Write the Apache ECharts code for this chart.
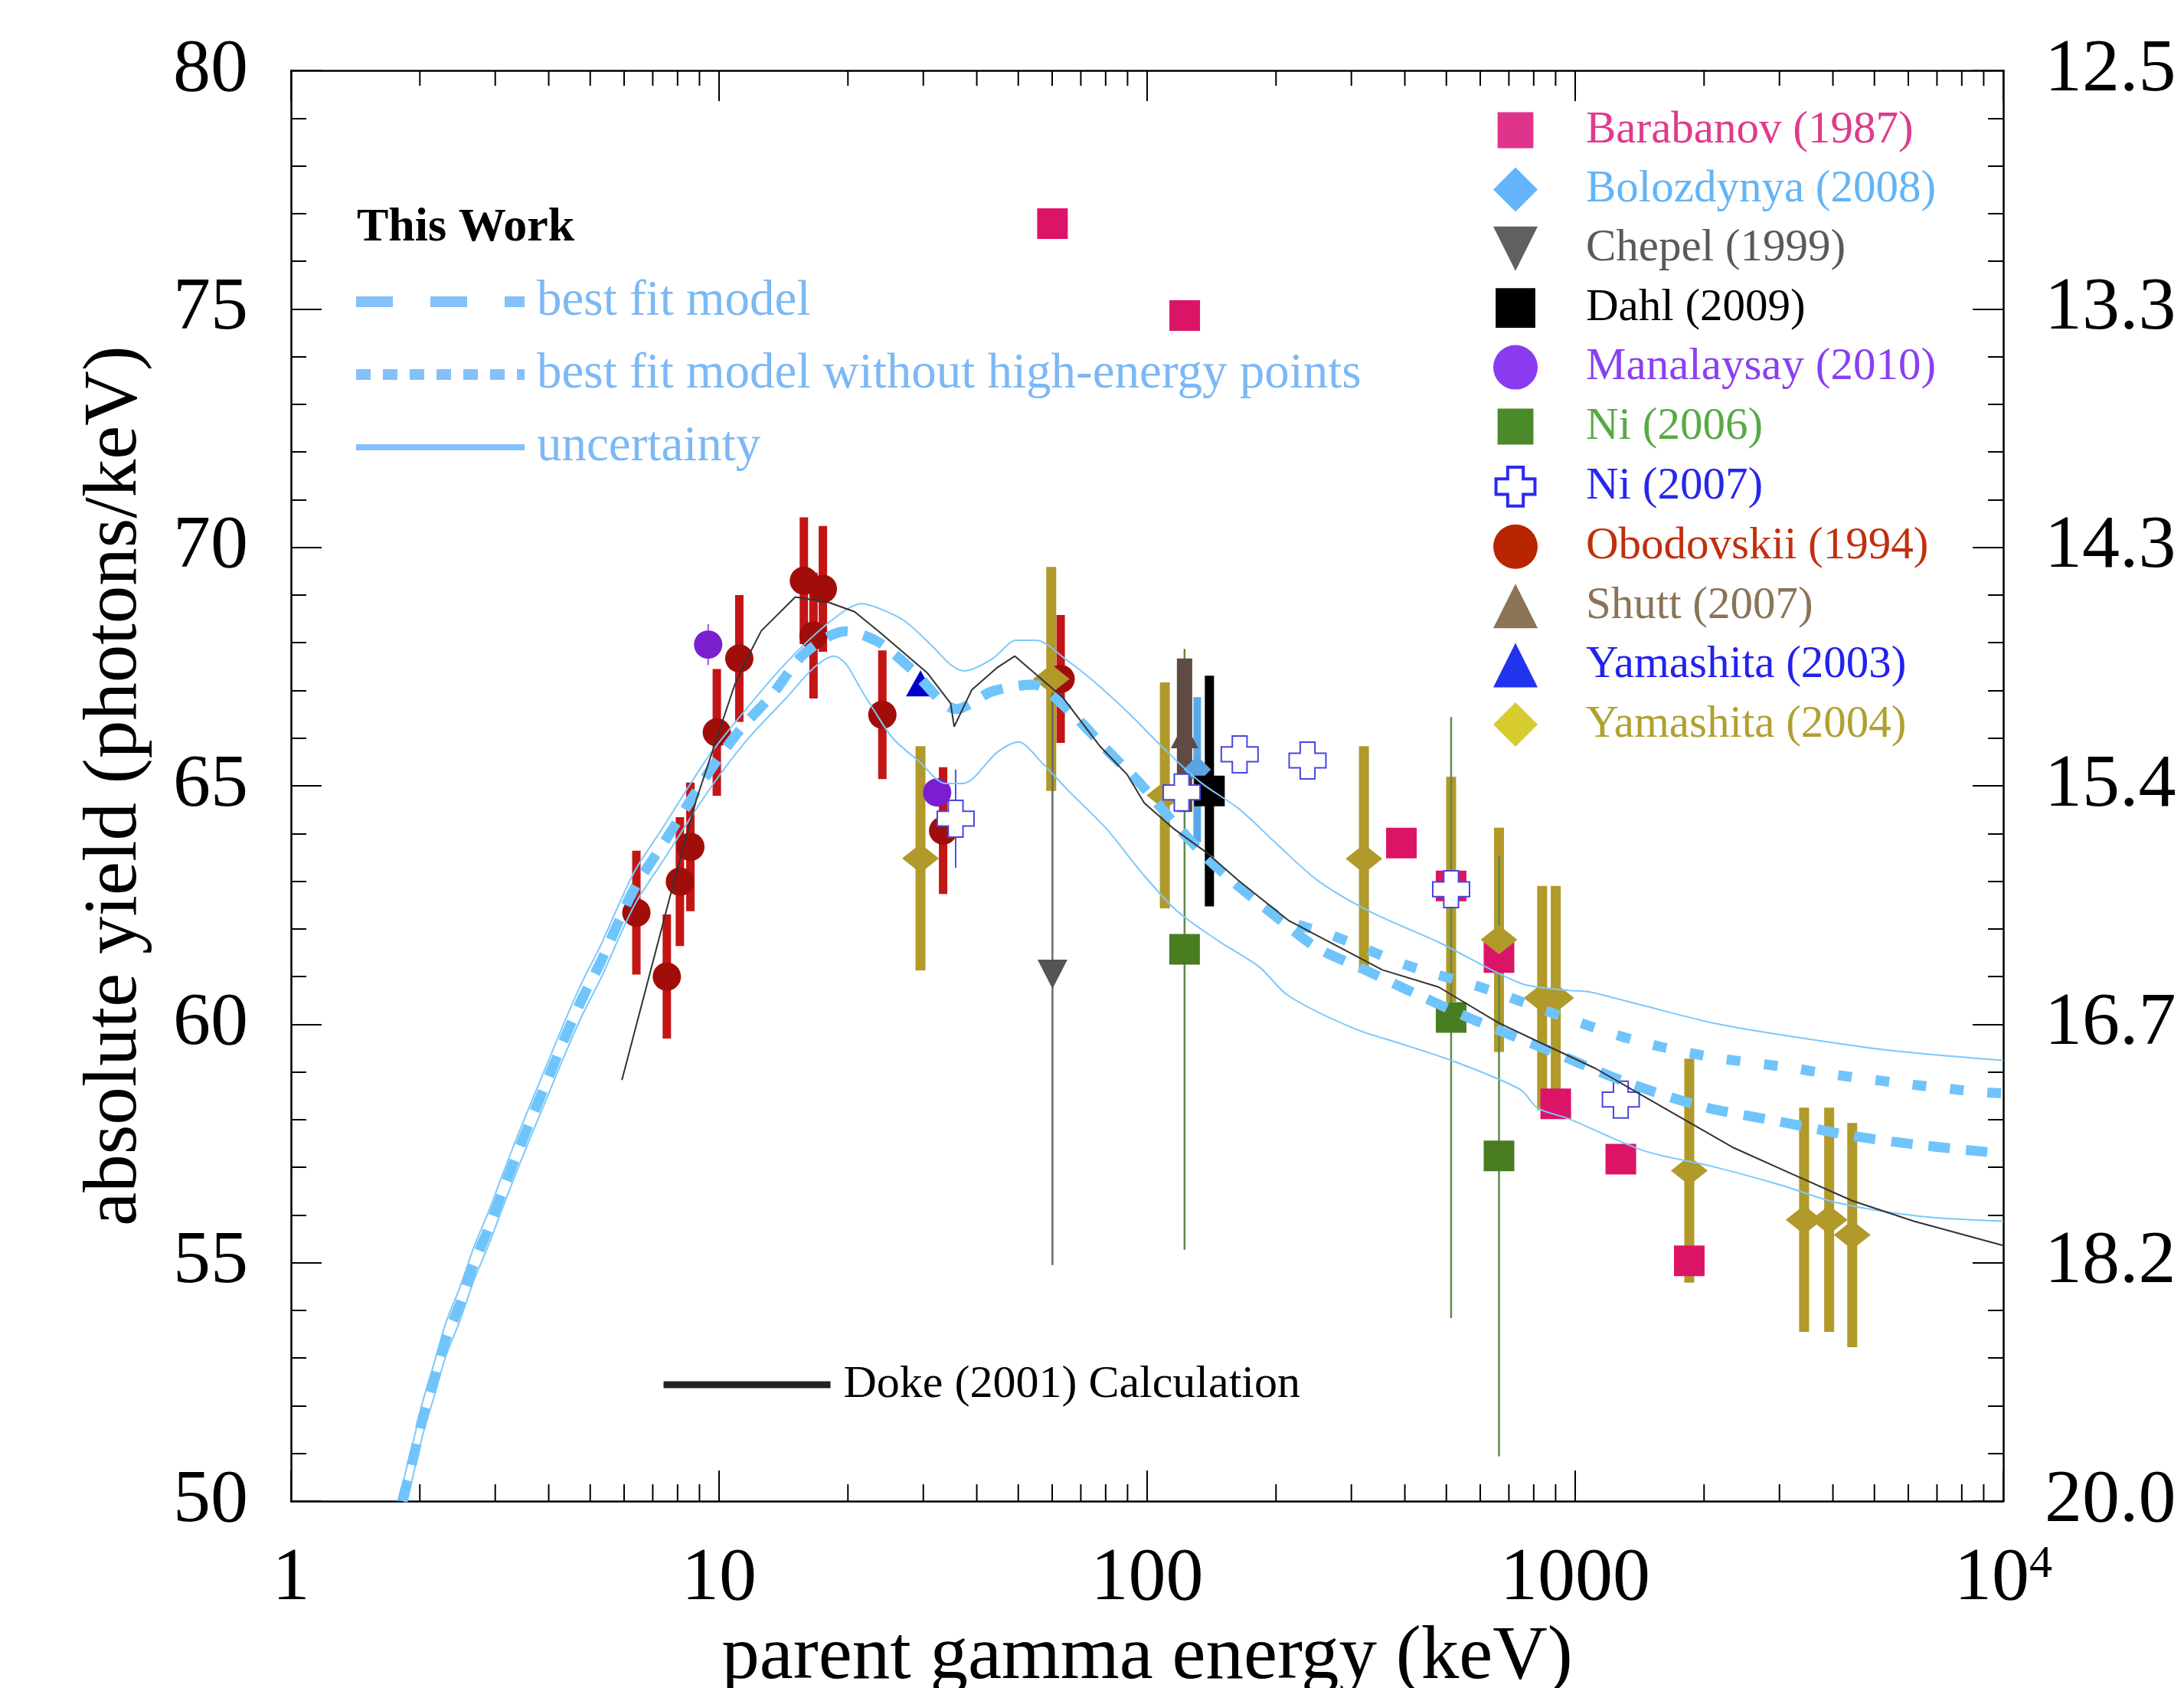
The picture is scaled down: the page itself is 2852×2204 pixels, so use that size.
<!DOCTYPE html>
<html>
<head>
<meta charset="utf-8">
<title>absolute yield vs parent gamma energy</title>
<script src="https://cdn.jsdelivr.net/npm/echarts@6/dist/echarts.min.js"></script>
<style>
html,body{margin:0;padding:0;background:#fff;}
#main{width:2852px;height:2204px;}
</style>
</head>
<body>
<div id="main"></div>
<script>
var SERIF = 'Liberation Serif';

// tick labels
var xTickLabels = {1:'1', 10:'10', 100:'100', 1000:'1000'};
var xMinorTicks = [2,3,4,5,6,7,8,9,20,30,40,50,60,70,80,90,200,300,400,500,600,700,800,900,
                   2000,3000,4000,5000,6000,7000,8000,9000];

// This Work: best fit model
var modelE = [1.82,1.93,2.03,2.17,2.30,2.48,2.67,2.90,3.13,3.40,3.69,4.03,4.38,4.79,5.30,5.80,6.38,7.4,9.42,11.21,13.33,
              15.85,19.77,23.5,27.96,35.97,43.47,54.23,66.1,81.2,95.8,117.6,142,171.6,209,249.6,317.4,388,576.3,863.8,1319,
              2012,2960,4437,6634,10000];
var modelY = [50,50.9,51.73,52.61,53.39,54.13,54.96,55.74,56.53,57.36,58.14,58.97,59.75,60.54,61.32,62.11,62.89,63.78,65.26,
              66.18,66.92,67.78,68.24,68.02,67.47,66.61,66.98,67.12,66.55,65.72,65.07,64.15,63.38,62.74,62.12,61.6,61.17,60.8,
              60.10,59.46,58.78,58.26,57.97,57.66,57.45,57.29];
// best fit model without high-energy points
var noHighE = [1.82,1.93,2.03,2.17,2.30,2.48,2.67,2.90,3.13,3.40,3.69,4.03,4.38,4.79,5.30,5.80,6.38,7.4,9.42,11.21,13.33,
               15.85,19.77,23.5,27.96,35.97,43.47,54.23,66.1,81.2,95.8,117.6,142,171.6,209,271.3,406.4,614.6,947,1394,2088,
               3128,3901,5793,8772,10000];
var noHighY = [50,50.9,51.73,52.61,53.39,54.13,54.96,55.74,56.53,57.36,58.14,58.97,59.75,60.54,61.32,62.11,62.89,63.78,65.26,
               66.18,66.92,67.78,68.24,68.02,67.47,66.61,66.98,67.12,66.55,65.72,65.07,64.15,63.38,62.74,62.2,61.86,61.23,
               60.75,60.14,59.65,59.31,59.1,58.96,58.76,58.58,58.55];
// uncertainty band
var uncUpE = [1.78,1.93,2.03,2.17,2.30,2.48,2.67,2.90,3.13,3.40,3.69,4.03,4.38,4.79,5.30,5.80,6.38,7.4,9.42,11.57,14.42,
              18.27,21.56,23.5,27.1,31.7,34.86,37.43,43.47,49.5,55,64.6,74.4,89.9,108.6,133.4,163.7,200.9,250.6,331.9,479.6,
              744.7,964.5,1076,1445,2088,3016,5330,10000];
var uncUpY = [50,51.25,52.08,52.96,53.74,54.48,55.31,56.09,56.88,57.71,58.49,59.32,60.1,60.89,61.67,62.46,63.24,64.13,65.6,
              66.61,67.6,68.46,68.82,68.73,68.46,67.9,67.53,67.41,67.66,68.05,68.05,67.65,67.22,66.55,65.81,65.07,64.52,63.78,
              63.01,62.36,61.72,60.86,60.71,60.68,60.39,60.03,59.78,59.46,59.24];
var uncLoE = [1.87,1.93,2.03,2.17,2.30,2.48,2.67,2.90,3.13,3.40,3.69,4.03,4.38,4.79,5.30,5.80,6.38,7.4,9.42,11.57,14.42,
              16.62,18.56,19.77,21.4,23.14,25.44,29.33,33.79,37.1,44.87,50.03,56.3,65.6,80.5,97.3,117.6,146.6,182.9,213.6,
              302.8,398.5,524.8,744.7,817.3,964.5,1445,2088,3016,4120,6430,10000];
var uncLoY = [50,50.55,51.38,52.26,53.04,53.78,54.61,55.39,56.18,57.01,57.79,58.62,59.4,60.19,60.97,61.76,62.54,63.43,64.88,
              65.94,66.86,67.47,67.72,67.56,67.04,66.55,66.0,65.51,65.05,65.05,65.72,65.92,65.52,64.89,64.09,63.17,62.37,
              61.75,61.2,60.6,59.92,59.57,59.21,58.63,58.24,58.02,57.35,57.02,56.63,56.25,55.97,55.87];

// Doke (2001) calculation
var dokeE = [5.93,7.72,8.85,10.2,10.86,11.75,12.55,15.07,17.98,20.73,23.88,30.7,34.75,35.42,38.93,44.52,49.09,63.58,77.4,
             89.9,98.5,115.7,137.6,163.7,213.6,266.9,354.4,479.6,661.5,817.3,1117,1445,2331,3247,4437,6181,10000];
var dokeY = [58.83,62.75,64.71,66.37,67.1,67.75,68.25,68.96,68.85,68.65,68.2,67.36,66.73,66.24,67.01,67.47,67.72,66.85,65.84,
             65.23,64.64,64.09,63.6,63.01,62.18,61.72,61.14,60.78,60.03,59.64,59.07,58.49,57.42,56.84,56.3,55.87,55.36];

// measurements
var barabanovE = [60.1,122.4,392.7,513,663.7,900.6,1278,1847];
var barabanovY = [76.79,74.86,63.80,62.90,61.40,58.33,57.17,55.04];

var bolozdynyaE = [130.9];
var bolozdynyaY = [65.34];
var bolozdynyaErr = [1.52];

var chepelE = [60.1];
var chepelY = [61.05];
var chepelErr = [6.1];

var dahlE = [139.8];
var dahlY = [64.89];
var dahlErr = [2.42];

var manalaysayE = [9.43,32.32];
var manalaysayY = [67.96,64.86];
var manalaysayErr = [0.43,0];

var ni2006E = [122.3,513,663.7];
var ni2006Y = [61.57,60.14,57.24];
var ni2006Err = [6.3,6.3,6.3];

var ni2007E = [35.7,120.4,164.5,237,513,1278];
var ni2007Y = [64.31,64.86,65.66,65.53,62.83,58.42];
var ni2007Err = [1.03,0,0,0,0,0];

var obodovskiiE = [6.41,7.55,8.10,8.57,9.88,11.15,15.78,16.62,17.48,24.07,33.37,62.8];
var obodovskiiY = [62.34,61.0,62.99,63.72,66.12,67.67,69.30,68.15,69.13,66.49,64.06,67.24];
var obodovskiiErr = [1.3,1.3,1.35,1.35,1.33,1.33,1.33,1.32,1.32,1.35,1.33,1.34];

var shuttE = [122.3];
var shuttY = [66.06];
var shuttErr = [1.61];

var yamashita2003E = [29.55];
var yamashita2003Y = [67.15];

var yamashita2004E = [29.55,59.7,110,321,513,663.7,837,900.6,1847,3425,3920,4437];
var yamashita2004Y = [63.48,67.24,64.80,63.47,62.83,61.77,60.55,60.55,56.93,55.90,55.90,55.58];
var yamashita2004Err = [2.35,2.35,2.37,2.36,2.36,2.35,2.35,2.35,2.35,2.35,2.35,2.35];

// symbols
var CROSS = 'path://M30,0H70V30H100V70H70V100H30V70H0V30H30Z';
var SQ_SMALL = 'path://M-12,-12L-12,-12M0,0H100V100H0ZM112,112L112,112';
var SQ_MID = 'path://M-6,-6L-6,-6M0,0H100V100H0ZM106,106L106,106';
var CROSS_LEG = 'path://M-7,-7L-7,-7M30,0H70V30H100V70H70V100H30V70H0V30H30ZM107,107L107,107';
var TRI_UP = 'path://M50,0L100,100H0Z';
var TRI_DOWN = 'path://M0,0H100L50,100Z';
var DIAMOND = 'path://M50,0L100,50L50,100L0,50Z';

function pts(xs, ys) {
  return xs.map(function (x, i) { return [x, ys[i]]; });
}

function line(name, xs, ys, color, width, type, smooth) {
  return {
    type: 'line', name: name, data: pts(xs, ys), symbol: 'none', smooth: smooth,
    lineStyle: {color: color, width: width, type: type}, itemStyle: {color: color},
    silent: true
  };
}

function errBars(xs, ys, es, color, width) {
  return {
    type: 'custom', silent: true,
    data: xs.map(function (x, i) { return [x, ys[i], es[i]]; }),
    encode: {x: 0, y: 1},
    renderItem: function (params, api) {
      var e = api.value(2);
      if (!e) return null;
      var a = api.coord([api.value(0), api.value(1) + e]);
      var b = api.coord([api.value(0), api.value(1) - e]);
      return {type: 'line', shape: {x1: a[0], y1: a[1], x2: b[0], y2: b[1]},
              style: {stroke: color, lineWidth: width}};
    }
  };
}

function marks(name, xs, ys, symbol, size, color, extra) {
  var s = {
    type: 'scatter', name: name, data: pts(xs, ys), symbol: symbol, symbolSize: size,
    itemStyle: {color: color, opacity: 1}, silent: true
  };
  for (var k in extra) s[k] = extra[k];
  return s;
}

var chart = echarts.init(document.getElementById('main'));

var xAxisBase = {
  type: 'log', logBase: 10, min: 1, max: 10000,
  axisLine: {show: true, onZero: false, lineStyle: {color: '#000', width: 2.5}},
  axisTick: {show: true, inside: true, length: 40, lineStyle: {color: '#000', width: 2}},
  splitLine: {show: false},
  minorTick: {show: false}
};
var yAxisBase = {
  type: 'value', min: 50, max: 80, interval: 5,
  axisLine: {show: true, onZero: false, lineStyle: {color: '#000', width: 2.5}},
  axisTick: {show: true, inside: true, length: 40, lineStyle: {color: '#000', width: 2}},
  minorTick: {show: true, splitNumber: 5, length: 20, lineStyle: {color: '#000', width: 2}},
  splitLine: {show: false}
};

chart.setOption({
  animation: false,
  backgroundColor: '#fff',
  textStyle: {fontFamily: SERIF},
  grid: {left: 380, right: 236, top: 92, bottom: 244, containLabel: false, outerBoundsMode: 'none'},
  title: {
    text: 'This Work', left: 461, top: 262,
    textStyle: {fontFamily: SERIF, fontWeight: 'bold', fontSize: 62, color: '#000'}
  },
  xAxis: [
    Object.assign({}, xAxisBase, {
      position: 'bottom',
      name: 'parent gamma energy (keV)', nameLocation: 'middle', nameGap: 155, nameMoveOverlap: false,
      nameTextStyle: {fontFamily: SERIF, fontSize: 99, color: '#000'},
      axisLabel: {
        margin: 53, color: '#000', fontFamily: SERIF, fontSize: 98,
        formatter: function (v) { return xTickLabels[v] || '{m|10}{s|4}'; },
        rich: {
          m: {fontFamily: SERIF, fontSize: 98, color: '#000'},
          s: {fontFamily: SERIF, fontSize: 60, color: '#000', verticalAlign: 'top'}
        }
      }
    }),
    Object.assign({}, xAxisBase, {position: 'top', axisLabel: {show: false}})
  ],
  yAxis: [
    Object.assign({}, yAxisBase, {
      position: 'left',
      name: 'absolute yield (photons/keV)', nameLocation: 'middle', nameGap: 180, nameMoveOverlap: false,
      nameTextStyle: {fontFamily: SERIF, fontSize: 99, color: '#000'},
      axisLabel: {margin: 56, color: '#000', fontFamily: SERIF, fontSize: 98}
    }),
    Object.assign({}, yAxisBase, {
      position: 'right',
      axisLabel: {
        margin: 54, color: '#000', fontFamily: SERIF, fontSize: 98,
        formatter: function (v) { return (1000 / v).toFixed(1); }
      }
    })
  ],
  legend: [
    {
      orient: 'vertical', left: 1943, top: 135, itemWidth: 58, itemHeight: 58, itemGap: 17.4,
      selectedMode: false,
      textStyle: {fontFamily: SERIF, fontSize: 59, lineHeight: 60, padding: [0, 0, 0, 58]},
      data: [
        {name: 'Barabanov (1987)', icon: SQ_SMALL, itemStyle: {color: '#e0338c'}, textStyle: {color: '#e03a8c'}},
        {name: 'Bolozdynya (2008)', icon: DIAMOND, itemStyle: {color: '#64b4fa'}, textStyle: {color: '#64b4f5'}},
        {name: 'Chepel (1999)', icon: TRI_DOWN, itemStyle: {color: '#606060'}, textStyle: {color: '#5a5a5a'}},
        {name: 'Dahl (2009)', icon: SQ_MID, itemStyle: {color: '#000'}, textStyle: {color: '#000'}},
        {name: 'Manalaysay (2010)', icon: 'circle', itemStyle: {color: '#8a3aef'}, textStyle: {color: '#8a40f0'}},
        {name: 'Ni (2006)', icon: SQ_SMALL, itemStyle: {color: '#4a8a2a'}, textStyle: {color: '#58aa44'}},
        {name: 'Ni (2007)', icon: CROSS_LEG, itemStyle: {color: '#fff', borderColor: '#2a2af0', borderWidth: 4},
         textStyle: {color: '#2626ee'}},
        {name: 'Obodovskii (1994)', icon: 'circle', itemStyle: {color: '#b82500'}, textStyle: {color: '#c0300e'}},
        {name: 'Shutt (2007)', icon: TRI_UP, itemStyle: {color: '#8b7355'}, textStyle: {color: '#8a7358'}},
        {name: 'Yamashita (2003)', icon: TRI_UP, itemStyle: {color: '#2233ee'}, textStyle: {color: '#2222ee'}},
        {name: 'Yamashita (2004)', icon: DIAMOND, itemStyle: {color: '#d6cc30'}, textStyle: {color: '#b0a030'}}
      ]
    },
    {
      orient: 'vertical', left: 453, top: 356, itemWidth: 220, itemHeight: 16, itemGap: 29,
      selectedMode: false,
      textStyle: {fontFamily: SERIF, fontSize: 65, lineHeight: 66, color: '#7cb8f4', padding: [0, 0, 0, 11]},
      data: [
        {name: 'best fit model', itemStyle: {opacity: 0},
         lineStyle: {width: 14, type: [48, 49], color: '#84c0fa'}},
        {name: 'best fit model without high-energy points', itemStyle: {opacity: 0},
         lineStyle: {width: 14, type: [19, 16], color: '#84c0fa'}},
        {name: 'uncertainty', itemStyle: {opacity: 0},
         lineStyle: {width: 8, type: 'solid', color: '#84c0fa'}}
      ]
    },
    {
      orient: 'vertical', left: 857, top: 1772, itemWidth: 218, itemHeight: 16,
      selectedMode: false,
      textStyle: {fontFamily: SERIF, fontSize: 60, lineHeight: 62, color: '#000', padding: [0, 0, 0, 12]},
      data: [
        {name: 'Doke (2001) Calculation', itemStyle: {opacity: 0},
         lineStyle: {width: 9, type: 'solid', color: '#222'}}
      ]
    }
  ],
  series: [
    line('uncertainty', uncUpE, uncUpY, '#7cc8fb', 2, 'solid', 0.3),
    line('uncertainty', uncLoE, uncLoY, '#7cc8fb', 2, 'solid', 0.3),
    line('best fit model without high-energy points', noHighE, noHighY, '#70c4fc', 13, [18, 31], 0.3),
    line('best fit model', modelE, modelY, '#70c4fc', 13, [28, 21], 0.3),
    line('Doke (2001) Calculation', dokeE, dokeY, '#333', 2, 'solid', false),
    {
      type: 'custom', silent: true,
      data: xMinorTicks.map(function (v) { return [v, 50]; }),
      encode: {x: 0, y: 1},
      renderItem: function (params, api) {
        var v = api.value(0);
        var b = api.coord([v, 50]);
        var t = api.coord([v, 80]);
        return {type: 'group', children: [
          {type: 'line', shape: {x1: b[0], y1: b[1], x2: b[0], y2: b[1] - 22}, style: {stroke: '#000', lineWidth: 2}},
          {type: 'line', shape: {x1: t[0], y1: t[1], x2: t[0], y2: t[1] + 20}, style: {stroke: '#000', lineWidth: 2}}
        ]};
      }
    },
    errBars(obodovskiiE, obodovskiiY, obodovskiiErr, '#c41515', 11),
    errBars(yamashita2004E, yamashita2004Y, yamashita2004Err, '#b1992a', 13),
    errBars(bolozdynyaE, bolozdynyaY, bolozdynyaErr, '#5aa8ec', 10),
    errBars(dahlE, dahlY, dahlErr, '#000', 12),
    errBars(ni2006E, ni2006Y, ni2006Err, '#5d8a48', 2.5),
    errBars(shuttE, shuttY, shuttErr, '#5f4b43', 20),
    errBars(chepelE, chepelY, chepelErr, '#6a6a6a', 2.5),
    errBars(ni2007E, ni2007Y, ni2007Err, '#5050e8', 2),
    errBars(manalaysayE, manalaysayY, manalaysayErr, '#9b4ee8', 2),
    marks('Barabanov (1987)', barabanovE, barabanovY, 'rect', 40, '#dc1468'),
    marks('Obodovskii (1994)', obodovskiiE, obodovskiiY, 'circle', 37, '#a10e0a'),
    marks('Yamashita (2004)', yamashita2004E, yamashita2004Y, 'diamond', [48, 38], '#b1992a'),
    marks('Chepel (1999)', chepelE, chepelY, 'triangle', [39, 38], '#555', {symbolRotate: 180}),
    marks('Ni (2006)', ni2006E, ni2006Y, 'rect', 40, '#4a7d22'),
    marks('Shutt (2007)', shuttE, shuttY, 'triangle', [36, 34], '#5f4b43'),
    marks('Bolozdynya (2008)', bolozdynyaE, bolozdynyaY, 'diamond', 36, '#5aa4e4'),
    marks('Dahl (2009)', dahlE, dahlY, 'rect', 40, '#000'),
    marks('Ni (2007)', ni2007E, ni2007Y, CROSS, 48, '#fff',
          {itemStyle: {color: '#fff', borderColor: '#4646e0', borderWidth: 2, opacity: 1}}),
    marks('Manalaysay (2010)', manalaysayE, manalaysayY, 'circle', 37, '#7a1ecf'),
    marks('Yamashita (2003)', yamashita2003E, yamashita2003Y, 'triangle', [38, 34], '#0000cc')
  ]
});
</script>
</body>
</html>
